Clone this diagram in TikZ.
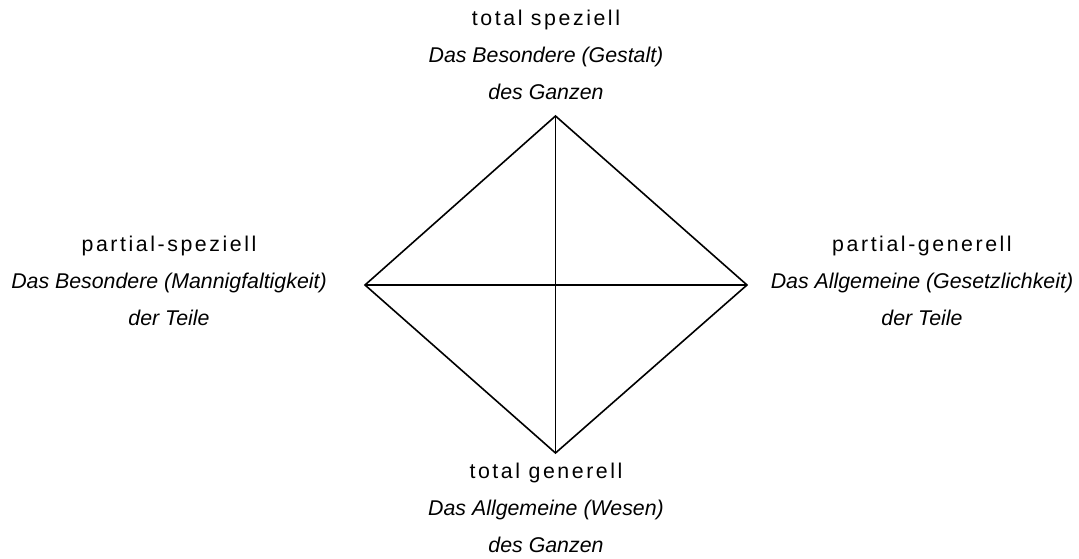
\documentclass[tikz,border=0pt]{standalone}
\usepackage{fontspec}
\setmainfont{Liberation Sans}
\usetikzlibrary{positioning}
\tikzset{
  every node/.style={inner sep=0pt, text=black},
  head/.style={anchor=base, font=\fontsize{16}{19}\selectfont\addfontfeature{LetterSpace=12}},
  sub/.style={anchor=base, font=\fontsize{16}{19}\selectfont\itshape},
  edge/.style={draw=black, line width=1.2pt, line join=miter},
}

\begin{document}
\begin{tikzpicture}[x=0.75pt, y=-0.75pt]
  \useasboundingbox (0,0) rectangle (1079,559);
  % corners of the diamond
  \coordinate (T) at (555.5,116);
  \coordinate (L) at (365,285);
  \coordinate (R) at (747,285);
  \coordinate (B) at (555.5,453);
  \draw[edge] (T) -- (R) -- (B) -- (L) -- cycle;
  \draw[edge] (T) -- (B);
  \draw[edge] (L) -- (R);
  % top
  \node[head] (ts) at (546,26) {total speziell};
  \node[sub] (tsa) at (546,63) {Das Besondere (Gestalt)};
  \node[sub] (tsb) at (546,100) {des Ganzen};
  % left
  \node[head] (ps) at (169,252) {partial-speziell};
  \node[sub] (psa) at (169,289) {Das Besondere (Mannigfaltigkeit)};
  \node[sub] (psb) at (169,326) {der Teile};
  % right
  \node[head] (pg) at (922,252) {partial-generell};
  \node[sub] (pga) at (922,289) {Das Allgemeine (Gesetzlichkeit)};
  \node[sub] (pgb) at (922,326) {der Teile};
  % bottom
  \node[head] (tg) at (546,479) {total generell};
  \node[sub] (tga) at (546,516) {Das Allgemeine (Wesen)};
  \node[sub] (tgb) at (546,553) {des Ganzen};
\end{tikzpicture}
\end{document}
